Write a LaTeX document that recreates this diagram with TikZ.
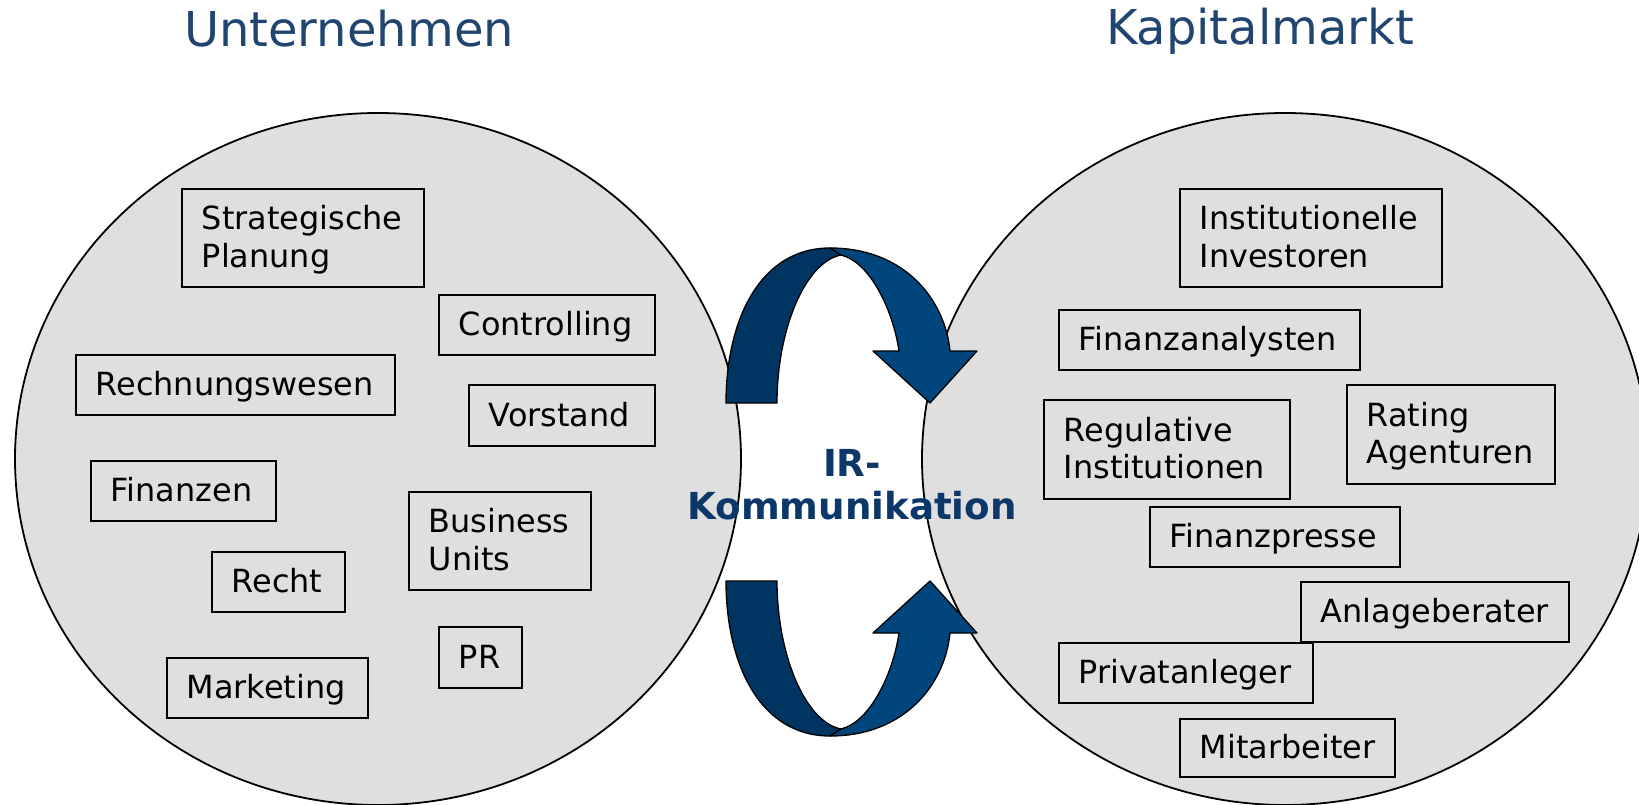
\documentclass[tikz,border=0pt]{standalone}
\usepackage{fontspec}
\setmainfont{DejaVu Sans}
\usetikzlibrary{shapes.geometric}
\definecolor{ellgray}{RGB}{223,223,223}
\definecolor{arrdark}{RGB}{0,53,98}
\definecolor{arrlight}{RGB}{0,69,124}
\definecolor{irblue}{RGB}{11,56,104}
\definecolor{titleblue}{RGB}{31,69,112}
\newcommand\bxfont{\fontsize{31.9}{35.7}\selectfont}
\newcommand\ttlfont{\fontsize{48}{56}\selectfont}
\newcommand\irfont{\fontsize{37.2}{43}\selectfont\bfseries}
\newcommand\bxstrut{\rule[-7.5pt]{0pt}{36.5pt}}
\begin{document}
\begin{tikzpicture}[x=1pt,y=-1pt,
  boxnode/.style={draw=black, line width=1.6pt, anchor=north west, inner xsep=20pt, inner ysep=0pt, align=left, font=\bxfont, text=black,
    execute at begin node=\bxstrut, execute at end node=\bxstrut},
  area/.style={ellipse, draw=black, line width=1.8pt, fill=ellgray, inner sep=0pt, minimum width=726pt, minimum height=692pt},
  arrowpart/.style={draw=black, line width=1.3pt, line join=round},
  titletext/.style={font=\ttlfont, text=titleblue, anchor=base}]
\useasboundingbox (0,0) rectangle (1639,805);
\clip (0,0) rectangle (1639,805);

% areas
\node[area] (unt) at (378,459) {};
\node[area] (kap) at (1285,459) {};

% left boxes
\node[boxnode, text width=202pt, minimum height=98pt] (sp) at (181,188) {Strategische\\Planung};
\node[boxnode, text width=176pt, minimum height=60pt] (ctrl) at (438,294) {Controlling};
\node[boxnode, text width=279pt, minimum height=60pt] (rw) at (75,354) {Rechnungswesen};
\node[boxnode, text width=146pt, minimum height=61pt] (vor) at (468,384) {Vorstand};
\node[boxnode, text width=145pt, minimum height=60pt] (fin) at (90,460) {Finanzen};
\node[boxnode, text width=142pt, minimum height=98pt] (bu) at (408,491) {Business\\Units};
\node[boxnode, text width=93pt, minimum height=60pt] (recht) at (211,551) {Recht};
\node[boxnode, text width=43pt, minimum height=61pt] (pr) at (438,626) {PR};
\node[boxnode, text width=161pt, minimum height=60pt] (mkt) at (166,657) {Marketing};

% right boxes
\node[boxnode, text width=222pt, minimum height=98pt] (ii) at (1179,188) {Institutionelle\\Investoren};
\node[boxnode, text width=261pt, minimum height=60pt] (fa) at (1058,309) {Finanzanalysten};
\node[boxnode, text width=206pt, minimum height=99pt] (ri) at (1043,399) {Regulative\\Institutionen};
\node[boxnode, text width=168pt, minimum height=99pt] (ra) at (1346,384) {Rating\\Agenturen};
\node[boxnode, text width=210pt, minimum height=60pt] (fp) at (1149,506) {Finanzpresse};
\node[boxnode, text width=228pt, minimum height=60pt] (ab) at (1300,581) {Anlageberater};
\node[boxnode, text width=214pt, minimum height=60pt] (pa) at (1058,642) {Privatanleger};
\node[boxnode, text width=175pt, minimum height=58pt] (ma) at (1179,718) {Mitarbeiter};

% upper curved arrow
\path[arrowpart, fill=arrdark] (726,403) -- (777,403) .. controls (777,330) and (805,262) .. (841,255) -- (830,248) .. controls (760,248) and (726,320) .. (726,403) -- cycle;
\path[arrowpart, fill=arrlight] (830,248) .. controls (905,248) and (945,300) .. (950,351) -- (977,351) -- (930,403) -- (873,351) -- (899,351) .. controls (893,310) and (870,262) .. (841,255) -- cycle;

% lower curved arrow
\path[arrowpart, fill=arrdark] (726,581) -- (777,581) .. controls (777,654) and (805,722) .. (841,729) -- (830,736) .. controls (760,736) and (726,664) .. (726,581) -- cycle;
\path[arrowpart, fill=arrlight] (830,736) .. controls (905,736) and (945,684) .. (950,633) -- (977,633) -- (930,581) -- (873,633) -- (899,633) .. controls (893,674) and (870,722) .. (841,729) -- cycle;

% central label
\node[font=\irfont, text=irblue, align=center, inner sep=0pt] (ir) at (852,485) {IR-\\Kommunikation};

% titles
\node[titletext] (t1) at (349,47) {Unternehmen};
\node[titletext] (t2) at (1260,45) {Kapitalmarkt};
\end{tikzpicture}
\end{document}
